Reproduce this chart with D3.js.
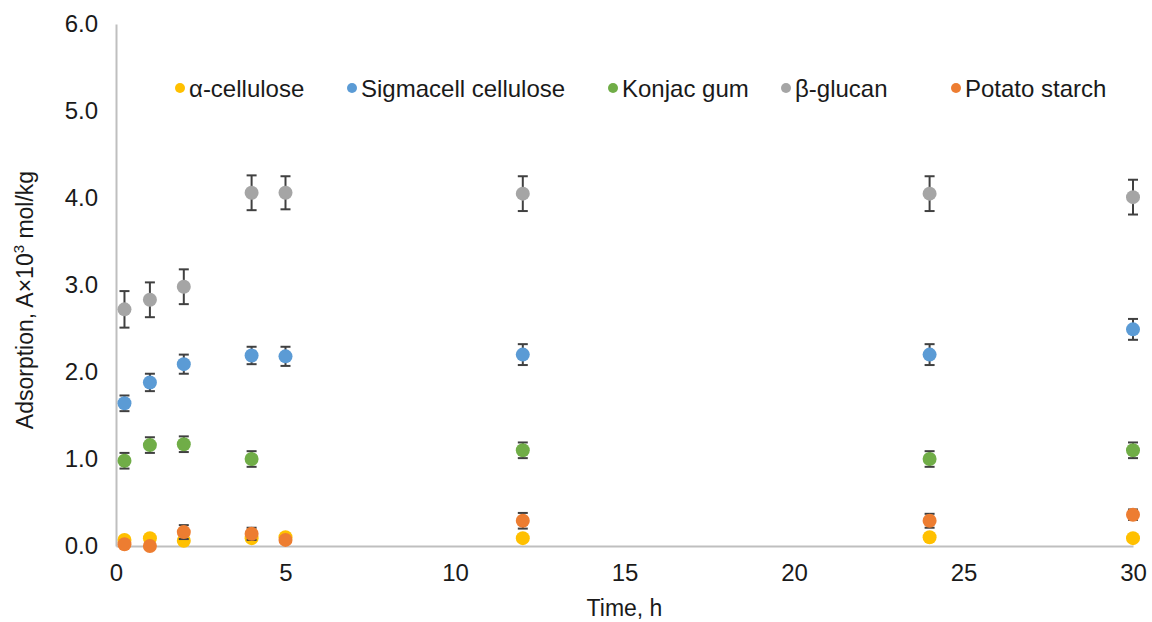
<!DOCTYPE html>
<html>
<head>
<meta charset="utf-8">
<script src="https://cdn.jsdelivr.net/npm/d3@7"></script>
<style>
  body { margin: 0; background: #fff; }
  text { font-family: "Liberation Sans", Arial, sans-serif; fill: #1a1a1a; }
</style>
</head>
<body>
<div id="vis-container"></div>
<script>
// time points (h)
let times = [0.25, 1, 2, 4, 5, 12, 24, 30];

let names = ["α-cellulose", "Sigmacell cellulose", "Konjac gum", "β-glucan", "Potato starch"];
let colors = ["#FFC000", "#5B9BD5", "#70AD47", "#A5A5A5", "#ED7D31"];

let alphaCell = [0.07, 0.09, 0.06, 0.09, 0.10, 0.09, 0.10, 0.09];
let alphaErr  = [0.02, 0.02, 0.02, 0.02, 0.02, 0.02, 0.02, 0.02];
let sigmacell = [1.64, 1.88, 2.09, 2.19, 2.18, 2.20, 2.20, 2.49];
let sigmaErr  = [0.09, 0.10, 0.11, 0.10, 0.11, 0.12, 0.12, 0.12];
let konjac    = [0.98, 1.16, 1.17, 1.00, null, 1.10, 1.00, 1.10];
let konjacErr = [0.09, 0.09, 0.09, 0.09, null, 0.09, 0.09, 0.09];
let bGlucan   = [2.72, 2.83, 2.98, 4.06, 4.06, 4.05, 4.05, 4.01];
let bGlucanErr= [0.21, 0.20, 0.20, 0.20, 0.19, 0.20, 0.20, 0.20];
let potato    = [0.02, 0.00, 0.16, 0.14, 0.07, 0.29, 0.29, 0.36];
let potatoErr = [0.02, 0.02, 0.08, 0.07, 0.02, 0.09, 0.08, 0.06];

let xTicks = [0, 5, 10, 15, 20, 25, 30];
let yTicks = [0, 1, 2, 3, 4, 5, 6];

let seriesVals = [alphaCell, sigmacell, konjac, bGlucan, potato];
let seriesErrs = [alphaErr, sigmaErr, konjacErr, bGlucanErr, potatoErr];

let w = 1152, h = 622;
let m = {left: 116, right: 19, top: 24, bottom: 76};

let svg = d3.select("#vis-container").append("svg")
  .attr("width", w).attr("height", h);

let x = d3.scaleLinear().domain([0, 30]).range([m.left, w - m.right]);
let y = d3.scaleLinear().domain([0, 6]).range([h - m.bottom, m.top]);

// axes
let xAxis = svg.append("g")
  .attr("transform", `translate(0,${h - m.bottom})`)
  .call(d3.axisBottom(x).tickValues(xTicks).tickSize(0).tickPadding(18).tickFormat(d3.format("d")));
let yAxis = svg.append("g")
  .attr("transform", `translate(${m.left},0)`)
  .call(d3.axisLeft(y).tickValues(yTicks).tickSize(0).tickPadding(18).tickFormat(d3.format(".1f")));

[xAxis, yAxis].forEach(a => {
  a.select(".domain").attr("stroke", "#bfbfbf").attr("stroke-width", 2);
  a.selectAll("text").style("font-size", "24px").attr("fill", "#1a1a1a");
});
xAxis.selectAll("text").attr("dy", "0.72em");

// axis titles
svg.append("text")
  .attr("x", (m.left + w - m.right) / 2).attr("y", 616)
  .attr("text-anchor", "middle").style("font-size", "23px")
  .text("Time, h");

let yt = svg.append("text")
  .attr("transform", `translate(33,300) rotate(-90)`)
  .attr("text-anchor", "middle").style("font-size", "23px");
yt.append("tspan").text("Adsorption, A×10");
yt.append("tspan").attr("dy", -9).style("font-size", "15px").text("3");
yt.append("tspan").attr("dy", 9).text(" mol/kg");

// series
seriesVals.forEach((vals, si) => {
  let pts = times.map((t, i) => ({t: t, v: vals[i], e: seriesErrs[si][i]}))
    .filter(d => d.v !== null);
  let g = svg.append("g");
  let eb = g.selectAll("g.err").data(pts).enter().append("g")
    .attr("stroke", "#404040").attr("stroke-width", 2);
  eb.append("line")
    .attr("x1", d => x(d.t)).attr("x2", d => x(d.t))
    .attr("y1", d => y(d.v + d.e)).attr("y2", d => y(Math.max(0, d.v - d.e)));
  eb.append("line")
    .attr("x1", d => x(d.t) - 5).attr("x2", d => x(d.t) + 5)
    .attr("y1", d => y(d.v + d.e)).attr("y2", d => y(d.v + d.e));
  eb.append("line")
    .attr("x1", d => x(d.t) - 5).attr("x2", d => x(d.t) + 5)
    .attr("y1", d => y(Math.max(0, d.v - d.e))).attr("y2", d => y(Math.max(0, d.v - d.e)));
  g.selectAll("circle").data(pts).enter().append("circle")
    .attr("cx", d => x(d.t)).attr("cy", d => y(d.v))
    .attr("r", 7).attr("fill", colors[si]);
});

// legend
let legX = [180, 352, 613, 786, 956];
let leg = svg.append("g");
names.forEach((n, i) => {
  leg.append("circle").attr("cx", legX[i]).attr("cy", 88).attr("r", 5).attr("fill", colors[i]);
  leg.append("text").attr("x", legX[i] + 9).attr("y", 97)
    .style("font-size", "24px").text(n);
});
</script>
</body>
</html>
